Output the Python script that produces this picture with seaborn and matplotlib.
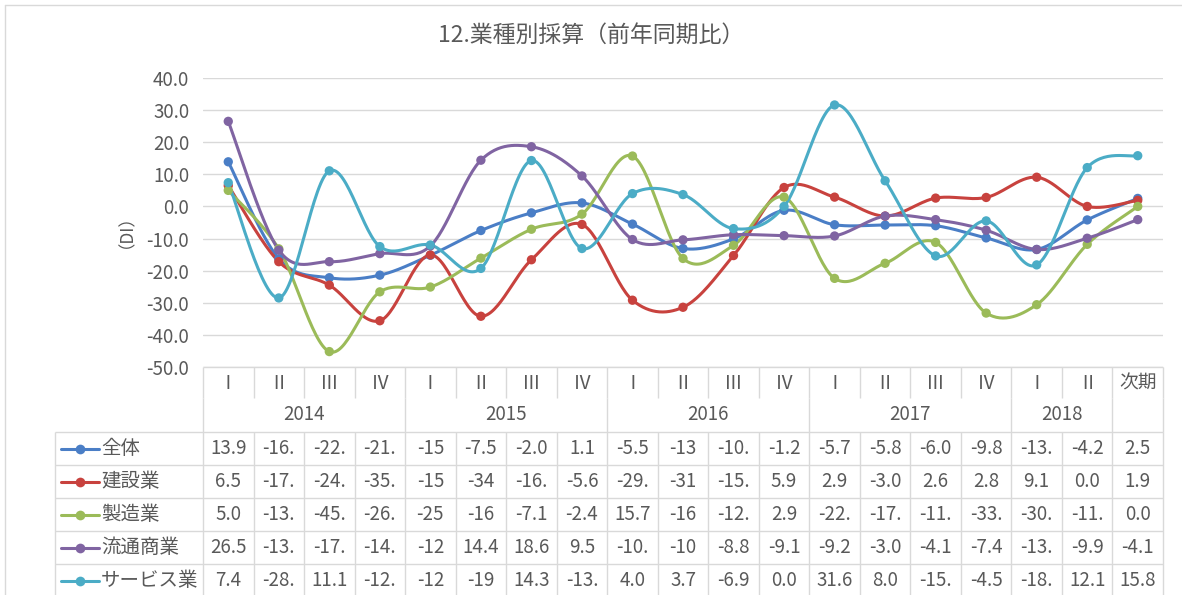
import numpy as np
import pandas as pd
import matplotlib
matplotlib.use("Agg")
import matplotlib.pyplot as plt
from matplotlib.lines import Line2D
import seaborn as sns

# ---- data -------------------------------------------------------------
title = "12.業種別採算（前年同期比）"
y_label = "（DI）"
quarters = ["Ⅰ", "Ⅱ", "Ⅲ", "Ⅳ"] * 4 + ["Ⅰ", "Ⅱ", "次期"]
years = ["2014", "2015", "2016", "2017", "2018"]
year_spans = [(0, 3), (4, 7), (8, 11), (12, 15), (16, 17)]

series_names = ["全体", "建設業", "製造業", "流通商業", "サービス業"]
zentai = [13.9, -16.3, -22.2, -21.4, -15.2, -7.5, -2.0, 1.1, -5.5, -13.1,
          -10.1, -1.2, -5.7, -5.8, -6.0, -9.8, -13.4, -4.2, 2.5]
kensetsu = [6.5, -17.2, -24.5, -35.6, -15.1, -34.2, -16.6, -5.6, -29.2, -31.4,
            -15.3, 5.9, 2.9, -3.0, 2.6, 2.8, 9.1, 0.0, 1.9]
seizou = [5.0, -13.2, -45.2, -26.6, -25.1, -16.1, -7.1, -2.4, 15.7, -16.2,
          -12.1, 2.9, -22.4, -17.7, -11.2, -33.2, -30.6, -11.8, 0.0]
ryutsu = [26.5, -13.6, -17.2, -14.7, -12.3, 14.4, 18.6, 9.5, -10.3, -10.4,
          -8.8, -9.1, -9.2, -3.0, -4.1, -7.4, -13.4, -9.9, -4.1]
service = [7.4, -28.5, 11.1, -12.5, -12.0, -19.3, 14.3, -13.1, 4.0, 3.7,
           -6.9, 0.0, 31.6, 8.0, -15.4, -4.5, -18.2, 12.1, 15.8]
series_values = [zentai, kensetsu, seizou, ryutsu, service]
colors = ["#4a7ec6", "#c8423e", "#9bbb59", "#8064a2", "#4bacc6"]

y_ticks = list(range(-50, 41, 10))
narrow_cols = {4, 5, 9}   # cells too narrow to show "-xx.x" beyond 3 chars

# ---- style --------------------------------------------------------------
sns.set_theme(style="white")
plt.rcParams["font.family"] = ["Noto Sans CJK JP", "DejaVu Sans"]
TXT = "#595959"
GRID = "#d9d9d9"
NUM_FS = 13.5

W, H = 1182, 595
fig = plt.figure(figsize=(W / 100, H / 100), dpi=100)

# plot area geometry (pixels)
PL, PR, PT, PB = 203, 1163, 78, 367
n = len(quarters)
colw = (PR - PL) / n


def smooth_curve(vals, steps=30):
    """Cardinal (Catmull-Rom style) Bezier smoothing through the points."""
    y = np.asarray(vals, float)
    x = np.arange(len(y), dtype=float)
    pts = np.column_stack([x, y])
    ext = np.vstack([pts[0], pts, pts[-1]])
    t = np.linspace(0, 1, steps, endpoint=False)[:, None]
    out = []
    for i in range(len(y) - 1):
        p0, p1, p2, p3 = ext[i], ext[i + 1], ext[i + 2], ext[i + 3]
        c1 = p1 + (p2 - p0) / 6.0
        c2 = p2 - (p3 - p1) / 6.0
        seg = ((1 - t) ** 3) * p1 + 3 * ((1 - t) ** 2) * t * c1 \
            + 3 * (1 - t) * t ** 2 * c2 + t ** 3 * p2
        out.append(seg)
    out.append(pts[-1][None, :])
    return np.vstack(out)


ax = fig.add_axes([PL / W, 1 - PB / H, (PR - PL) / W, (PB - PT) / H])

curve_frames, point_frames = [], []
for name, vals in zip(series_names, series_values):
    c = smooth_curve(vals)
    curve_frames.append(pd.DataFrame({"x": c[:, 0], "y": c[:, 1],
                                      "series": name, "order": np.arange(len(c))}))
    point_frames.append(pd.DataFrame({"x": np.arange(n), "y": vals, "series": name}))
curves = pd.concat(curve_frames, ignore_index=True)
points = pd.concat(point_frames, ignore_index=True)
palette = dict(zip(series_names, colors))

sns.lineplot(data=curves, x="x", y="y", hue="series", units="series",
             estimator=None, sort=False, palette=palette, linewidth=2.2,
             legend=False, ax=ax)
sns.scatterplot(data=points, x="x", y="y", hue="series", palette=palette,
                s=45, edgecolor="none", legend=False, ax=ax, zorder=5)

ax.set_xlim(-0.5, n - 0.5)
ax.set_ylim(-50, 40)
ax.set_yticks(y_ticks)
ax.set_yticklabels([f"{v:.1f}" for v in y_ticks], color=TXT, fontsize=NUM_FS)
ax.set_xticks([])
ax.set_xlabel("")
ax.set_ylabel("")
ax.grid(axis="y", color=GRID, linewidth=1)
ax.tick_params(axis="y", length=0, pad=10)
for s in ax.spines.values():
    s.set_visible(False)

fig.text(117 / W, 1 - 222 / H, y_label, rotation=90, ha="center", va="center",
         color=TXT, fontsize=12.5)
fig.text(0.5, 1 - 35 / H, title, ha="center", va="center", color=TXT,
         fontsize=16.5)

# ---- data table below the plot ----------------------------------------
TL = 55
TB = H
tax = fig.add_axes([TL / W, 0, (PR - TL) / W, (TB - PB) / H])
x0 = -0.5 - (PL - TL) / colw
x1 = n - 0.5
tax.set_xlim(x0, x1)
tax.set_ylim(TB - PB, 0)
tax.axis("off")

R1, R2, RH = 31, 65, 33  # roman row bottom, year row bottom, data row height
lk = dict(color=GRID, linewidth=1, clip_on=False)

tax.hlines(0, -0.5, x1, **lk)
for k in range(6):
    tax.hlines(R2 + RH * k, x0, x1, **lk)
bounds = np.arange(-0.5, n, 1.0)
tax.vlines(bounds, 0, R1, **lk)
year_bounds = [-0.5] + [b + 0.5 for _, b in year_spans] + [x1]
tax.vlines(year_bounds, R1, R2, **lk)
tax.vlines(bounds, R2, TB - PB + 5, **lk)
tax.vlines(x0, R2, TB - PB + 5, **lk)

for i, q in enumerate(quarters):
    tax.text(i, R1 / 2 + 1, q, ha="center", va="center", color=TXT,
             fontsize=NUM_FS)
for yr, (a, b) in zip(years, year_spans):
    tax.text((a + b) / 2, (R1 + R2) / 2, yr, ha="center", va="center",
             color=TXT, fontsize=NUM_FS)


def cell_text(v, col):
    s = f"{v:.1f}"
    if len(s) > 4:
        s = s[:3] if col in narrow_cols else s[:4]
    return s


for r, (name, vals, col) in enumerate(zip(series_names, series_values, colors)):
    yc = R2 + RH * r + RH / 2
    lx0 = x0 + 6 / colw
    lx1 = x0 + 44 / colw
    tax.plot([lx0, lx1], [yc, yc], color=col, linewidth=2.2, clip_on=False)
    tax.plot([(lx0 + lx1) / 2], [yc], "o", color=col, markersize=7,
             markeredgewidth=0, clip_on=False)
    tax.text(x0 + 46 / colw, yc, name, ha="left", va="center", color=TXT,
             fontsize=14)
    for i, v in enumerate(vals):
        tax.text(i, yc, cell_text(v, i), ha="center", va="center", color=TXT,
                 fontsize=NUM_FS)

# outer chart frame
fig.add_artist(Line2D([5 / W, 5 / W], [0, 1 - 5 / H], transform=fig.transFigure,
                      color=GRID, linewidth=1))
fig.add_artist(Line2D([5 / W, 1], [1 - 5 / H, 1 - 5 / H], transform=fig.transFigure,
                      color=GRID, linewidth=1))

fig.savefig("out.png", dpi=100, facecolor="white")
